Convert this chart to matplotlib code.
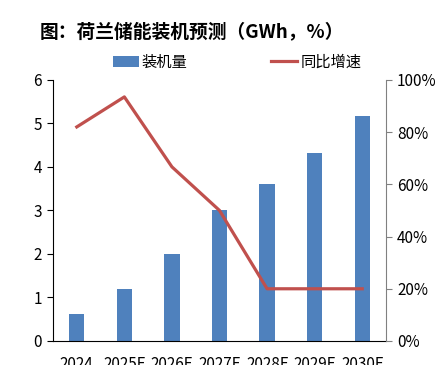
import matplotlib
matplotlib.use('Agg')
import matplotlib.pyplot as plt
import numpy as np

plt.rcParams['font.family'] = ['Noto Sans CJK SC', 'DejaVu Sans']

anios = ['2024', '2025F', '2026F', '2027F', '2028F', '2029F', '2030F']
装机量 = [0.62, 1.2, 2.0, 3.0, 3.6, 4.32, 5.16]
增速 = [0.82, 0.935, 0.667, 0.50, 0.20, 0.20, 0.20]

azul = '#4F81BD'
rojo = '#C0504D'

fig = plt.figure(figsize=(4.39, 3.65), dpi=100)
ax = fig.add_axes([0.1207, 0.0658, 0.7586, 0.7152])
x = np.arange(len(anios))

barras = ax.bar(x, 装机量, width=0.32, color=azul, label='装机量', zorder=2)
ax.set_xlim(-0.5, len(anios) - 0.5)
ax.set_ylim(0, 6)
ax.set_yticks(range(0, 7))
ax.set_xticks(x)
ax.set_xticklabels(anios)
ax.tick_params(axis='x', length=0, pad=10.5, labelsize=11)
ax.tick_params(axis='y', direction='out', length=4, labelsize=11, pad=4)
ax.spines['top'].set_visible(False)
ax.spines['right'].set_visible(False)
ax.spines['left'].set_color('black')
ax.spines['bottom'].set_color('black')

ax2 = ax.twinx()
linea, = ax2.plot(x, 增速, color=rojo, linewidth=2.3, label='同比增速', zorder=3)
ax2.set_ylim(0, 1)
ax2.set_yticks(np.linspace(0, 1, 6))
ax2.set_yticklabels([f'{int(round(v * 100))}%' for v in np.linspace(0, 1, 6)])
ax2.tick_params(axis='y', direction='out', length=4, labelsize=11, pad=4, color='#808080')
ax2.spines['top'].set_visible(False)
ax2.spines['left'].set_visible(False)
ax2.spines['bottom'].set_visible(False)
ax2.spines['right'].set_color('#808080')

fig.text(0.437, 0.912, '图：荷兰储能装机预测（GWh，%）', ha='center', va='center',
         fontsize=13.5, fontweight='bold')

fig.legend(handles=[barras, linea], labels=['装机量', '同比增速'], loc='center',
           bbox_to_anchor=(0.54, 0.83), ncol=2, frameon=False, fontsize=11,
           handlelength=1.7, handletextpad=0.2, columnspacing=5.5,
           borderaxespad=0)

plt.savefig('out.png', dpi=100)
plt.close()
